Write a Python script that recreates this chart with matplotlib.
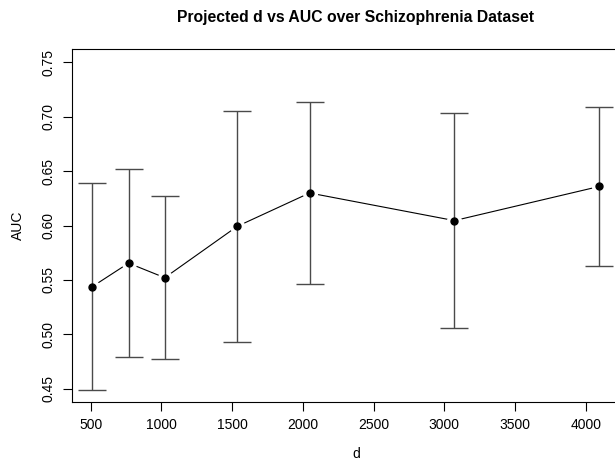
import matplotlib

matplotlib.use("Agg")
import matplotlib.pyplot as plt

plt.rcParams["font.family"] = ["Liberation Sans", "DejaVu Sans"]

# projected dimension vs mean AUC (+/- sd) on the schizophrenia data
d = [512, 768, 1024, 1536, 2048, 3072, 4096]
auc = [0.5438, 0.5654, 0.5520, 0.5992, 0.6299, 0.6045, 0.6359]
sd = [0.0955, 0.0862, 0.0748, 0.1063, 0.0841, 0.0990, 0.0735]
xticks = [500, 1000, 1500, 2000, 2500, 3000, 3500, 4000]
yticks = [0.45, 0.50, 0.55, 0.60, 0.65, 0.70, 0.75]

W, H = 615, 462
fig = plt.figure(figsize=(W / 100, H / 100), dpi=100)
left, right, top, bottom = 71.7, 640, 49.3, 401.7
ax = fig.add_axes([left / W, (H - bottom) / H, (right - left) / W, (bottom - top) / H])

# R style type="b": line with gaps around the points
ax.plot(d, auc, color="black", lw=0.8, zorder=1)
ax.plot(d, auc, "o", ms=10, color="white", zorder=2)
ax.errorbar(d, auc, yerr=sd, fmt="none", ecolor="#4a4a4a", elinewidth=1,
            capsize=10, capthick=1, zorder=3)
ax.plot(d, auc, "o", ms=5, color="black", zorder=4)

ax.set_xlim(366, 4384)
ax.set_ylim(0.438, 0.762)
ax.set_xticks(xticks)
ax.set_yticks(yticks)
ax.set_yticklabels(["%.2f" % v for v in yticks], rotation=90, va="center")
ax.tick_params(length=6.5, width=0.8, labelsize=10, pad=5)
for s in ax.spines.values():
    s.set_linewidth(0.8)

ax.set_title("Projected d vs AUC over Schizophrenia Dataset",
             fontsize=11.3, fontweight="bold", pad=20)
ax.set_xlabel("d", fontsize=10, labelpad=11)
ax.set_ylabel("AUC", fontsize=10, labelpad=12)

plt.savefig("out.png", dpi=100)
